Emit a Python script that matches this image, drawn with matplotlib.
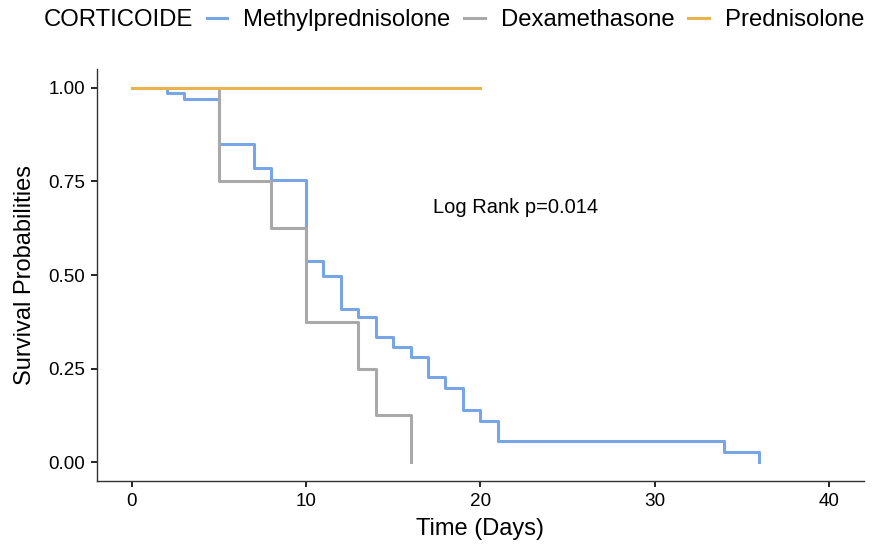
import numpy as np
import matplotlib
matplotlib.use("Agg")
import matplotlib.pyplot as plt

plt.rcParams['font.family'] = ['Liberation Sans', 'DejaVu Sans']

# Kaplan-Meier step curves
methyl_t = [0, 2, 3, 5, 7, 8, 10, 11, 12, 13, 14, 15, 16, 17, 18, 19, 20, 21, 34, 36]
methyl_s = [1.0, 0.987, 0.971, 0.85, 0.786, 0.754, 0.537, 0.497, 0.409, 0.388,
            0.334, 0.307, 0.281, 0.227, 0.198, 0.139, 0.110, 0.056, 0.028, 0.0]
dexa_t = [0, 5, 8, 10, 13, 14, 16]
dexa_s = [1.0, 0.75, 0.625, 0.375, 0.25, 0.125, 0.0]
pred_t = [0, 20]
pred_s = [1.0, 1.0]

groups = ["Methylprednisolone", "Dexamethasone", "Prednisolone"]
colors = ["#78A5E6", "#A9A9A9", "#E9B44C"]
x_ticks = [0, 10, 20, 30, 40]
y_ticks = [0.0, 0.25, 0.5, 0.75, 1.0]

fig = plt.figure(figsize=(8.8, 5.57), dpi=100)
ax = fig.add_axes([0.110, 0.1364, 0.9816 - 0.110, 0.876 - 0.1364])

lines = []
for t, s, c, g in zip([methyl_t, dexa_t, pred_t], [methyl_s, dexa_s, pred_s], colors, groups):
    ln, = ax.step(t, s, where='post', color=c, lw=2.2, label=g)
    lines.append(ln)

ax.text(22, 0.68, "Log Rank p=0.014", ha='center', va='center', fontsize=14.5)

ax.set_xlim(-2, 42)
ax.set_ylim(-0.05, 1.05)
ax.set_xticks(x_ticks)
ax.set_yticks(y_ticks)
ax.set_yticklabels(["%.2f" % v for v in y_ticks])
ax.tick_params(labelsize=13.6, length=4, width=1.2, color='black', labelcolor='black', pad=4.5)
for sp in ['top', 'right']:
    ax.spines[sp].set_visible(False)
for sp in ['left', 'bottom']:
    ax.spines[sp].set_color('#333333')
    ax.spines[sp].set_linewidth(1.0)

ax.set_xlabel("Time (Days)", fontsize=17, labelpad=6)
ax.set_ylabel("Survival Probabilities", fontsize=17, labelpad=9)

fig.text(44 / 880, 1 - 20 / 557, "CORTICOIDE", fontsize=17.2, ha='left', va='center')
fig.legend(handles=lines, loc='center left', bbox_to_anchor=(207 / 880, 1 - 20 / 557),
           ncol=3, frameon=False, fontsize=17.2, handlelength=0.85,
           handletextpad=0.67, columnspacing=0.58, borderpad=0, borderaxespad=0)

fig.savefig("out.png", dpi=100)
